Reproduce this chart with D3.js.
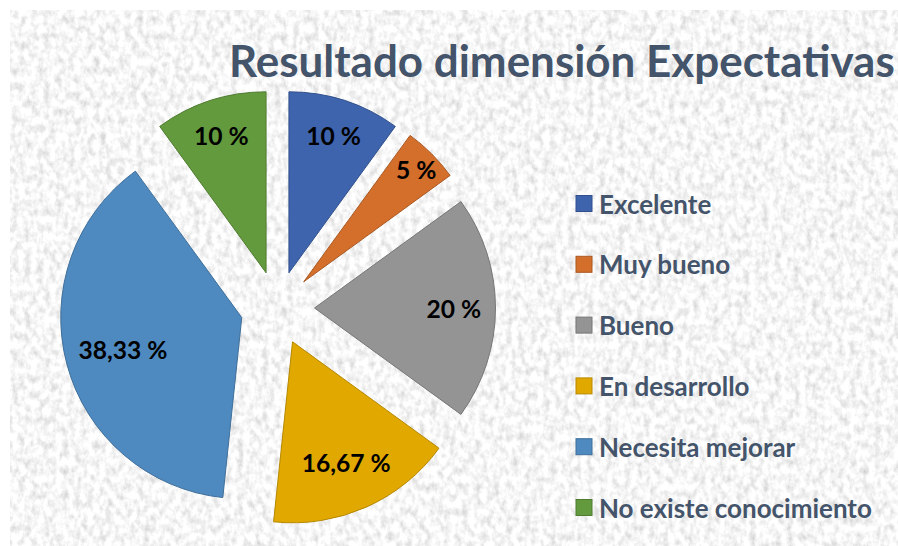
<!DOCTYPE html>
<html><head><meta charset="utf-8">
<script src="https://cdn.jsdelivr.net/npm/d3@7"></script>
<style>body{margin:0;background:#fff}svg{display:block}</style></head>
<body>
<script>
const categories = ["Excelente","Muy bueno","Bueno","En desarrollo","Necesita mejorar","No existe conocimiento"];
const values = [10, 5, 20, 16.67, 38.33, 10];
const valueLabels = ["10 %","5 %","20 %","16,67 %","38,33 %","10 %"];
const colors = ["#3E64AD","#D36E2B","#949494","#E1A900","#4E89BF","#639A3E"];
const titleText = "Resultado dimensión Expectativas";

// layout
const W = 898, H = 546;
const cx = 277.5, cy = 308, R = 181, explode = 37;
const labelFrac = [0.80, 0.88, 0.77, 0.73, 0.68, 0.80];
const FONT = "Lato, 'Open Sans', sans-serif";
const textColor = "#44546A";

const svg = d3.select("body").append("svg").attr("width", W).attr("height", H);
const defs = svg.append("defs");
const f = defs.append("filter").attr("id","granite").attr("x",0).attr("y",0).attr("width","100%").attr("height","100%");
f.append("feTurbulence").attr("type","fractalNoise").attr("baseFrequency","0.16 0.12").attr("numOctaves",4).attr("seed",3).attr("result","n");
f.append("feColorMatrix").attr("in","n").attr("type","matrix")
 .attr("values","0.65 0 0 0 0.6  0.65 0 0 0 0.6  0.65 0 0 0 0.6  0 0 0 0 1");
svg.append("rect").attr("x",10).attr("y",10).attr("width",W-10).attr("height",H-10).attr("fill","#ebebeb");
svg.append("rect").attr("x",10).attr("y",10).attr("width",W-10).attr("height",H-10).attr("filter","url(#granite)");

function fitSize(text, target, weight) {
  const t = svg.append("text").attr("font-family",FONT).attr("font-weight",weight||700).attr("font-size",100).text(text);
  const w = t.node().getComputedTextLength();
  t.remove();
  return 100 * target / w;
}

// title
const titleSize = fitSize(titleText, 666);
svg.append("text").attr("x",229).attr("y",77).attr("font-family",FONT).attr("font-weight",700)
  .attr("font-size",titleSize).attr("fill",textColor).text(titleText);

// pie
const pie = d3.pie().sort(null).value(d => d)(values);
const arc = d3.arc().innerRadius(0).outerRadius(R);
const g = svg.append("g").attr("transform",`translate(${cx},${cy})`);
const labelSize = fitSize("16,67 %", 89);
const slices = g.selectAll("g.slice").data(pie).join("g").attr("class","slice")
  .attr("transform", d => {
    const a = (d.startAngle + d.endAngle)/2;
    return `translate(${Math.sin(a)*explode},${-Math.cos(a)*explode})`;
  });
slices.append("path").attr("d", arc)
  .attr("fill",(d,i)=>colors[i])
  .attr("stroke",(d,i)=>d3.color(colors[i]).darker(0.6))
  .attr("stroke-width",1);
slices.append("text")
  .attr("x",(d,i)=>Math.sin((d.startAngle+d.endAngle)/2)*R*labelFrac[i])
  .attr("y",(d,i)=>-Math.cos((d.startAngle+d.endAngle)/2)*R*labelFrac[i])
  .attr("text-anchor","middle").attr("dominant-baseline","central")
  .attr("font-family",FONT).attr("font-weight",700).attr("font-size",labelSize)
  .attr("fill","#000").text((d,i)=>valueLabels[i]);

// legend
const ly = d3.scalePoint().domain(categories).range([203.5, 507.5]);
const legSize = fitSize("No existe conocimiento", 273);
const leg = svg.append("g").selectAll("g").data(categories).join("g")
  .attr("transform", d => `translate(576,${ly(d)})`);
leg.append("rect").attr("x",0).attr("y",-8).attr("width",16).attr("height",16)
  .attr("fill",(d,i)=>colors[i]).attr("stroke",(d,i)=>d3.color(colors[i]).darker(0.6)).attr("stroke-width",1);
leg.append("text").attr("x",23).attr("y",0).attr("dominant-baseline","central")
  .attr("font-family",FONT).attr("font-weight",700).attr("font-size",legSize)
  .attr("fill",textColor).text(d=>d);
</script>
</body></html>
